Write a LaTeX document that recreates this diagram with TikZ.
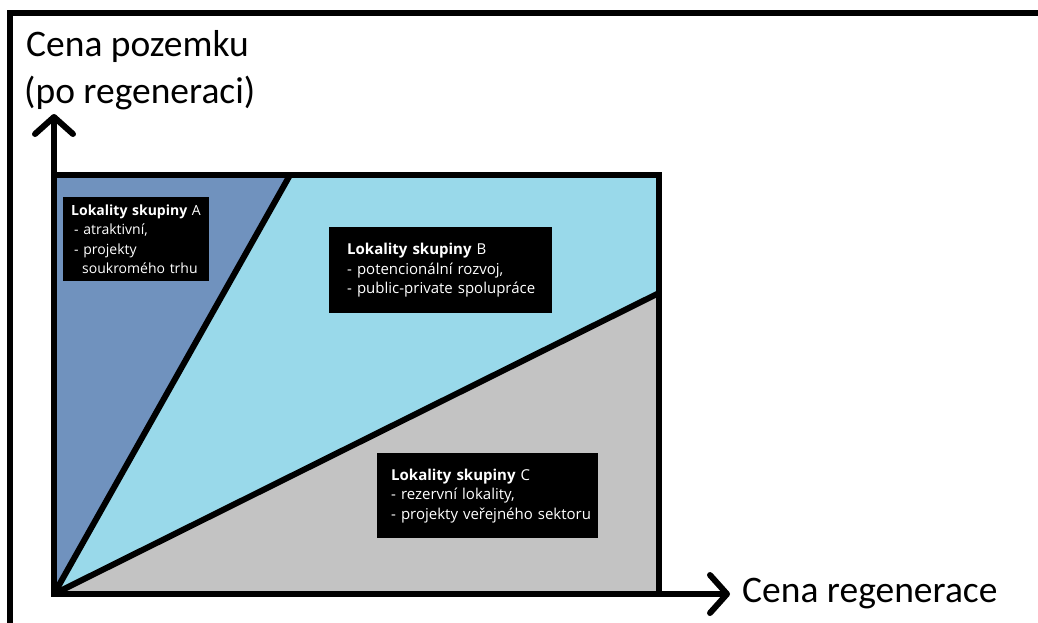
\documentclass[tikz,border=0pt]{standalone}
\usepackage{fontspec}
\setmainfont{Carlito}
\newfontfamily\boxfont{Open Sans}
\usetikzlibrary{arrows.meta}

\definecolor{zoneA}{HTML}{7092BE}
\definecolor{zoneB}{HTML}{99D9EA}
\definecolor{zoneC}{HTML}{C3C3C3}

\tikzset{
  heavy/.style={line width=6pt},
  axis/.style={heavy, line join=miter,
    {Straight Barb[length=17pt,width=38pt,round]}-{Straight Barb[length=17pt,width=38pt,round]}},
  axislabel/.style={font=\fontsize{37.5}{45}\selectfont, inner sep=0pt, anchor=west},
  infobox/.style={fill=black, text=white, inner xsep=0pt, inner ysep=0pt,
    anchor=north west, align=left,
    font=\boxfont\fontsize{15}{19.5}\selectfont},
}

\begin{document}
\begin{tikzpicture}[x=1pt,y=-1pt]
\useasboundingbox (0,0) rectangle (1038,622);

% outer frame
\draw[heavy] (10,640) -- (10,13) -- (1060,13);

% corner points of the chart
\coordinate (origin) at (54,594);
\coordinate (tl) at (54,175);
\coordinate (tr) at (659,175);
\coordinate (br) at (659,594);
\coordinate (atop) at (290,175);
\coordinate (bcright) at (659,293);
\coordinate (ytip) at (54,114);
\coordinate (xtip) at (730,594);

% coloured zones
\fill[zoneA] (origin) -- (tl) -- (atop) -- cycle;
\fill[zoneB] (origin) -- (atop) -- (tr) -- (bcright) -- cycle;
\fill[zoneC] (origin) -- (bcright) -- (br) -- cycle;

% chart border and dividing lines
\draw[heavy, line join=miter] (tl) -- (tr) -- (br);
\draw[heavy] (origin) -- (atop);
\draw[heavy] (origin) -- (bcright);

% axes
\draw[axis] (ytip) -- (origin) -- (xtip);

% axis labels
\node[axislabel] (ylab1) at (26,46) {Cena pozemku};
\node[axislabel] (ylab2) at (24,93) {(po regeneraci)};
\node[axislabel] (xlab) at (742,594) {Cena regenerace};

% group descriptions
\node[infobox, font=\boxfont\fontsize{14}{19.5}\selectfont,
      text width=146pt, minimum height=84pt] (grpA) at (63,197)
  {\hspace*{8pt}\mbox{\textbf{Lokality skupiny} A}\\
   \hspace*{11pt}\mbox{- atraktivní,}\\
   \hspace*{11pt}\mbox{- projekty}\\
   \hspace*{19pt}\mbox{soukromého trhu}};
\node[infobox, text width=223pt, minimum height=86pt] (grpB) at (329,227)
  {\hspace*{18pt}\mbox{\textbf{Lokality skupiny} B}\\
   \hspace*{18pt}\mbox{- potencionální rozvoj,}\\
   \hspace*{18pt}\mbox{- public-private spolupráce}};
\node[infobox, text width=221pt, minimum height=85pt] (grpC) at (377,453)
  {\hspace*{14pt}\mbox{\textbf{Lokality skupiny} C}\\
   \hspace*{14pt}\mbox{- rezervní lokality,}\\
   \hspace*{14pt}\mbox{- projekty veřejného sektoru}};
\end{tikzpicture}
\end{document}
